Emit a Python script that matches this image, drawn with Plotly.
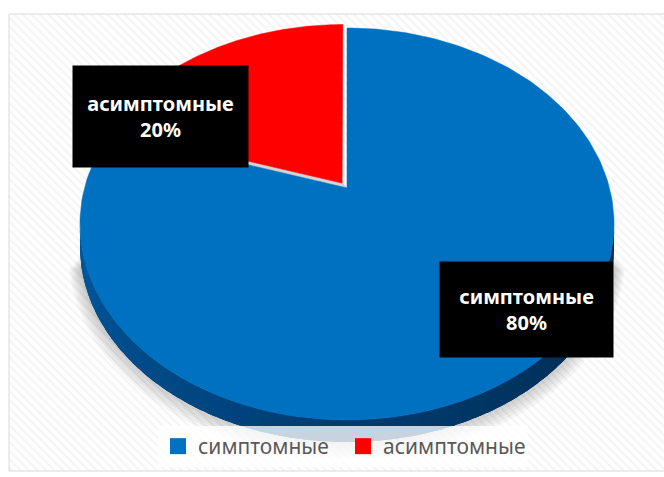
import numpy as np
import plotly.graph_objects as go

# ---- data -------------------------------------------------------------
categories = ["симптомные", "асимптомные"]
shares = [80, 20]
top_colors = ["#0070C0", "#FF0000"]
explode = [0.0, 0.032]

# ---- 3-D pie geometry (pixel-space axes) ------------------------------
W, H = 664, 477
CX, CY = 347.0, 188.0       # projected pie centre
RX, RY = 262.5, 189.4       # horizontal / vertical radius of the disc
PERSP = 0.1837              # perspective foreshortening of the far half
DEPTH = 22.0                # thickness of the disc
START = 90.0                # first slice starts at 12 o'clock, clockwise


def project(u, w, dz=0.0):
    den = 1.0 + PERSP * w
    return CX + RX * u / den, CY - RY * w / den + dz


def hex_mix(c1, c2, t):
    a = [int(c1[i:i + 2], 16) for i in (1, 3, 5)]
    b = [int(c2[i:i + 2], 16) for i in (1, 3, 5)]
    return "rgb({},{},{})".format(*[round(a[j] + (b[j] - a[j]) * t) for j in range(3)])


total = float(sum(shares))
bounds = []
acc = 0.0
for v in shares:
    a0 = START - 360.0 * acc / total
    acc += v
    a1 = START - 360.0 * acc / total
    bounds.append((a0, a1))

fig = go.Figure()

# hatched chart area
fig.add_trace(go.Scatter(
    x=[9, 700, 700, 9, 9], y=[14, 14, 471, 471, 14], mode="lines",
    fill="toself", fillcolor="white",
    fillpattern=dict(shape="\\", fgcolor="#e9e9e9", bgcolor="white", size=6, solidity=0.35),
    line=dict(color="#d9d9d9", width=1), hoverinfo="skip", showlegend=False))

# soft shadow under the front rim
phi_front = np.radians(np.linspace(195, 345, 120))
for i in range(1, 8):
    s = 1.0 + 0.006 * i
    xs, ys = project(s * np.cos(phi_front), s * np.sin(phi_front), DEPTH * 0.7 + 1.6 * i)
    fig.add_trace(go.Scatter(x=xs, y=ys, mode="lines", fill="toself",
                             fillcolor="rgba(0,0,0,0.035)", line=dict(width=0),
                             hoverinfo="skip", showlegend=False))

# visible rim (front side) limits
ext = np.degrees(np.arcsin(PERSP))
vis_lo, vis_hi = 180.0 + ext, 360.0 - ext

side_stops = ["#00589E", "#003C70", "#00284A"]


def side_color(t):
    t = min(max(t, 0.0), 1.0)
    if t < 0.5:
        return hex_mix(side_stops[0], side_stops[1], t / 0.5)
    return hex_mix(side_stops[1], side_stops[2], (t - 0.5) / 0.5)


# draw the exploded (back) slice first, then the large front slice
order = [1, 0]
for idx in order:
    a0, a1 = bounds[idx]
    lo, hi = min(a0, a1), max(a0, a1)
    mid = np.radians((a0 + a1) / 2.0)
    u0, w0 = explode[idx] * np.cos(mid), explode[idx] * np.sin(mid)

    # radial cut face along the left edge (visible sliver below the edge)
    if idx == 1:
        r = np.radians(lo)
        cx0, cy0 = project(u0, w0)
        ex, ey = project(u0 + np.cos(r), w0 + np.sin(r))
        fig.add_trace(go.Scatter(
            x=[cx0, ex, ex, cx0, cx0], y=[cy0, ey, ey + DEPTH, cy0 + DEPTH, cy0],
            mode="lines", fill="toself", fillcolor="#7A0000", line=dict(width=0),
            hoverinfo="skip", showlegend=False))

    # outer side wall, shaded left to right
    for shift in (-720, -360, 0, 360):
        s_lo, s_hi = max(lo, vis_lo + shift), min(hi, vis_hi + shift)
        if s_hi <= s_lo:
            continue
        # base band in one piece, then overlapping shaded strips on top
        ph = np.radians(np.linspace(s_lo, s_hi, 200))
        xt, yt = project(u0 + np.cos(ph), w0 + np.sin(ph))
        xb, yb = project(u0 + np.cos(ph[::-1]), w0 + np.sin(ph[::-1]), DEPTH)
        fig.add_trace(go.Scatter(
            x=np.r_[xt, xb, xt[:1]], y=np.r_[yt, yb, yt[:1]], mode="lines",
            fill="toself", fillcolor=side_stops[1], line=dict(width=0),
            hoverinfo="skip", showlegend=False))
        n_seg = 60
        edges = np.linspace(s_lo, s_hi, n_seg + 1)
        step = edges[1] - edges[0]
        for j in range(n_seg):
            e0, e1 = edges[j], min(edges[j + 1] + step * 0.6, s_hi)
            ph = np.radians(np.linspace(e0, e1, 5))
            xt, yt = project(u0 + np.cos(ph), w0 + np.sin(ph))
            xb, yb = project(u0 + np.cos(ph[::-1]), w0 + np.sin(ph[::-1]), DEPTH)
            t = (edges[j] + step / 2 - (vis_lo + shift)) / (vis_hi - vis_lo)
            col = side_color(t)
            fig.add_trace(go.Scatter(
                x=np.r_[xt, xb, xt[:1]], y=np.r_[yt, yb, yt[:1]], mode="lines",
                fill="toself", fillcolor=col, line=dict(width=0),
                hoverinfo="skip", showlegend=False))

    # light cut face between the exploded slice and its neighbour
    if idx == 1:
        r = np.radians(hi)
        ax, ay = project(u0, w0)
        bx, by = project(u0 + np.cos(r), w0 + np.sin(r))
        cx1, cy1 = project(np.cos(r), np.sin(r))
        dx1, dy1 = project(0.0, 0.0)
        fig.add_trace(go.Scatter(
            x=[ax, bx, cx1, dx1, ax], y=[ay, by, cy1, dy1, ay], mode="lines",
            fill="toself", fillcolor="#D4D4D4", line=dict(color="#C4C4C4", width=0.8),
            hoverinfo="skip", showlegend=False))

    # top face
    ph = np.radians(np.linspace(a0, a1, 240))
    xs, ys = project(u0 + np.cos(ph), w0 + np.sin(ph))
    cxp, cyp = project(u0, w0)
    fig.add_trace(go.Scatter(
        x=np.r_[cxp, xs, cxp], y=np.r_[cyp, ys, cyp], mode="lines",
        fill="toself", fillcolor=top_colors[idx], line=dict(color=top_colors[idx], width=0.5),
        hoverinfo="skip", showlegend=False))

# legend entries
for name, col in zip(categories, top_colors):
    fig.add_trace(go.Scatter(x=[None], y=[None], mode="markers", name=name,
                             marker=dict(symbol="square", size=16, color=col)))

# data labels
label_boxes = [(526.5, 309.0, 173, 95), (160.5, 116.5, 175, 101)]
for (x, y, bw, bh), name, v in zip(label_boxes, categories, shares):
    fig.add_annotation(x=x, y=y, xref="x", yref="y", showarrow=False,
                       text=f"<b>{name}<br>{v}%</b>", width=bw, height=bh,
                       bgcolor="black", borderpad=0, align="center", valign="middle",
                       font=dict(family="Noto Sans", size=20, color="white"))

fig.update_layout(
    width=W, height=H, margin=dict(l=0, r=0, t=0, b=0),
    paper_bgcolor="white", plot_bgcolor="white",
    xaxis=dict(range=[0, W], visible=False, fixedrange=True),
    yaxis=dict(range=[H, 0], visible=False, fixedrange=True),
    legend=dict(orientation="h", xanchor="center", x=343 / W, yanchor="bottom",
                y=10 / H, bgcolor="rgba(255,255,255,0.78)",
                font=dict(family="Noto Sans", size=21, color="#595959"),
                itemsizing="trace", entrywidth=140, itemwidth=30),
    showlegend=True,
)

fig.write_html("out.html")
